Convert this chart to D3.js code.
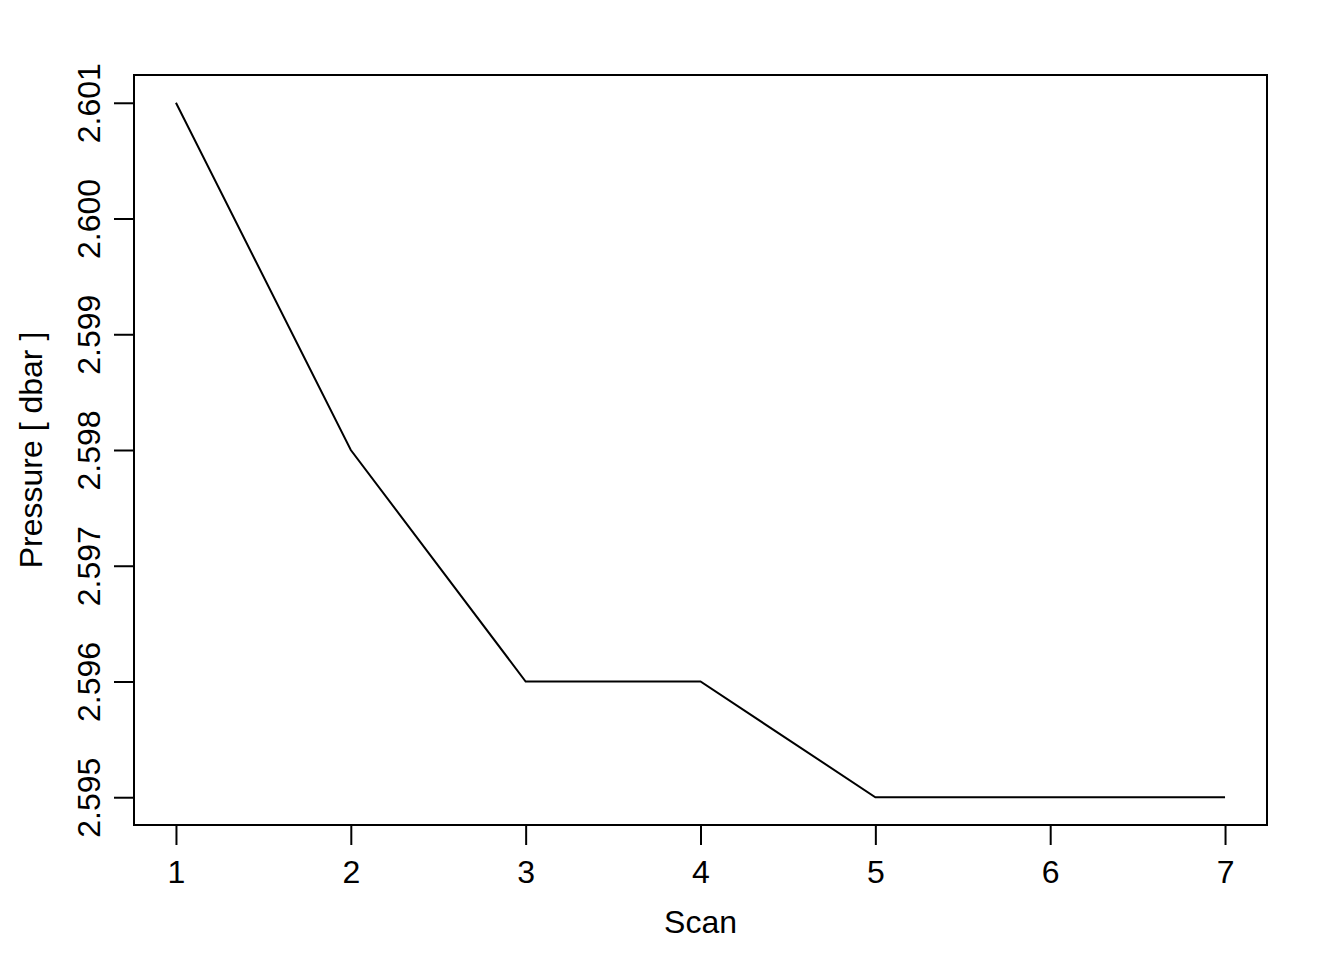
<!DOCTYPE html>
<html>
<head>
<meta charset="utf-8">
<script src="https://cdn.jsdelivr.net/npm/d3@7"></script>
<style>
html,body{margin:0;padding:0;background:#fff;}
svg{display:block;}
text{font-family:"Liberation Sans",Arial,Helvetica,sans-serif;fill:#000;}
</style>
</head>
<body>
<svg id="chart" width="1344" height="960"></svg>
<script>
const scans = [1, 2, 3, 4, 5, 6, 7];
const pressure = [2.601, 2.598, 2.596, 2.596, 2.595, 2.595, 2.595];
const xTicks = [1, 2, 3, 4, 5, 6, 7];
const yTicks = [2.595, 2.596, 2.597, 2.598, 2.599, 2.600, 2.601];
const xLabel = "Scan";
const yLabel = "Pressure [ dbar ]";

(function () {
const svg = d3.select("#chart");
const mLeft = 134, mRight = 1267, mTop = 75, mBottom = 825;
const fs = 32;

const xPad = (7 - 1) * 0.04;
const yPad = (2.601 - 2.595) * 0.04;
const x = d3.scaleLinear().domain([1 - xPad, 7 + xPad]).range([mLeft, mRight]);
const y = d3.scaleLinear().domain([2.595 - yPad, 2.601 + yPad]).range([mBottom, mTop]);

// box
svg.append("rect").attr("x", mLeft).attr("y", mTop)
  .attr("width", mRight - mLeft).attr("height", mBottom - mTop)
  .attr("fill", "none").attr("stroke", "#000").attr("stroke-width", 2);

// x axis
const xAxis = d3.axisBottom(x).tickValues(xTicks).tickSize(20).tickPadding(0).tickFormat(d3.format("d"));
const gx = svg.append("g").attr("transform", `translate(0,${mBottom})`).call(xAxis);
gx.select(".domain").attr("d", `M${x(1)},0H${x(7)}`).attr("stroke-width", 2);
gx.selectAll(".tick line").attr("stroke-width", 2);
gx.selectAll(".tick text").attr("y", 58).attr("dy", null)
  .style("font-size", fs + "px").style("font-family", '"Liberation Sans",Arial,sans-serif').attr("fill", "#000");

// y axis
const yAxis = d3.axisLeft(y).tickValues(yTicks).tickSize(20).tickPadding(0).tickFormat(d3.format(".3f"));
const gy = svg.append("g").attr("transform", `translate(${mLeft},0)`).call(yAxis);
gy.select(".domain").attr("d", `M0,${y(2.595)}V${y(2.601)}`).attr("stroke-width", 2);
gy.selectAll(".tick line").attr("stroke-width", 2);
gy.selectAll(".tick text")
  .attr("x", null).attr("dy", null)
  .attr("transform", "translate(-34,0) rotate(-90)")
  .attr("text-anchor", "middle")
  .style("font-size", fs + "px").style("font-family", '"Liberation Sans",Arial,sans-serif').attr("fill", "#000");

// line
const line = d3.line().x((d, i) => x(scans[i])).y(d => y(d));
svg.append("path").datum(pressure).attr("d", line)
  .attr("fill", "none").attr("stroke", "#000").attr("stroke-width", 2);

// labels
svg.append("text").attr("x", (mLeft + mRight) / 2).attr("y", 933)
  .attr("text-anchor", "middle").style("font-size", fs + "px").text(xLabel);
svg.append("text").attr("transform", `translate(42,${(mTop + mBottom) / 2}) rotate(-90)`)
  .attr("text-anchor", "middle").style("font-size", fs + "px").text(yLabel);
})();
</script>
</body>
</html>
